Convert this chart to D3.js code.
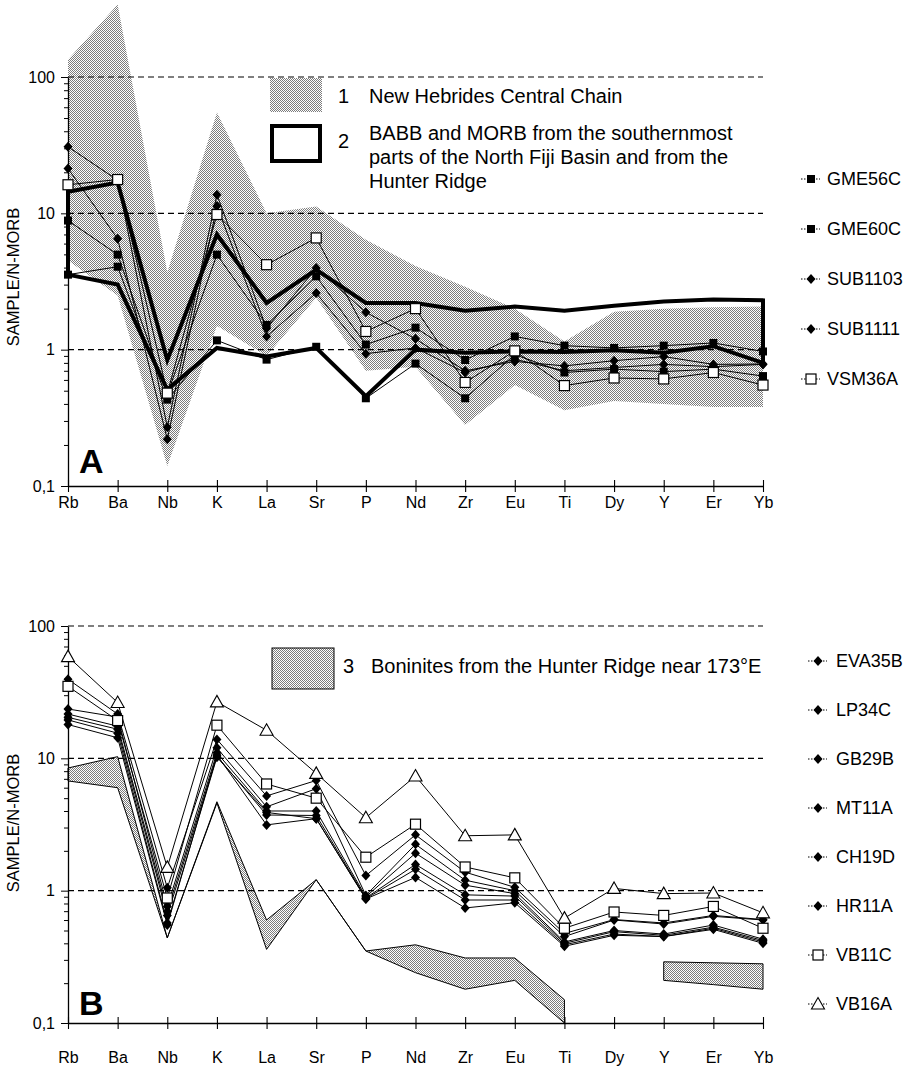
<!DOCTYPE html>
<html>
<head>
<meta charset="utf-8">
<script src="https://cdn.jsdelivr.net/npm/d3@7"></script>
<style>
body { margin: 0; background: #fff; }
text { font-family: "Liberation Sans", Arial, Helvetica, sans-serif; fill: #000; }
</style>
</head>
<body>
<svg width="907" height="1078"></svg>
<script>
var svg = d3.select("svg");

// categories and ticks
var elements = ["Rb", "Ba", "Nb", "K", "La", "Sr", "P", "Nd", "Zr", "Eu", "Ti", "Dy", "Y", "Er", "Yb"];
var yTickValues = [0.1, 1, 10, 100];
var yTickLabels = ["0,1", "1", "10", "100"];
var minorTicks = [0.2, 0.3, 0.4, 0.5, 0.6, 0.7, 0.8, 0.9, 2, 3, 4, 5, 6, 7, 8, 9, 20, 30, 40, 50, 60, 70, 80, 90];

// panel A samples
var gme56c  = [8.85, 4.98, 0.47, 4.98, 1.52, 3.45, 1.09, 1.45, 0.84, 1.25, 1.07, 1.03, 1.07, 1.12, 0.97];
var gme60c  = [3.55, 4.06, 0.43, 1.17, 0.845, 1.05, 0.44, 0.79, 0.44, 0.92, 0.68, 0.72, 0.69, 0.72, 0.64];
var sub1103 = [30.8, 17.5, 0.27, 13.7, 1.43, 3.97, 1.88, 1.2, 0.70, 0.82, 0.76, 0.83, 0.89, 0.78, 0.785];
var sub1111 = [21.3, 6.5, 0.22, 11.3, 1.25, 2.6, 0.935, 1.03, 0.68, 0.85, 0.70, 0.74, 0.78, 0.75, 0.78];
var vsm36a  = [16.2, 17.7, 0.48, 9.8, 4.2, 6.6, 1.36, 2.0, 0.575, 0.98, 0.545, 0.62, 0.61, 0.68, 0.55];

// field 1: New Hebrides Central Chain
var nhccMax = [134, 340, 3.7, 55, 10, 11.2, 6.4, 4.1, 2.9, 2.0, 1.15, 1.9, 2.0, 2.05, 2.07];
var nhccMin = [4.5, 2.5, 0.14, 1.5, 0.9, 2.4, 0.7, 0.75, 0.28, 0.55, 0.36, 0.42, 0.40, 0.38, 0.38];
// field 2: BABB and MORB
var babbMax = [14.4, 16.8, 0.84, 7.0, 2.2, 3.86, 2.2, 2.2, 1.93, 2.07, 1.93, 2.1, 2.26, 2.33, 2.3];
var babbMin = [3.55, 3.0, 0.51, 1.03, 0.89, 1.03, 0.455, 1.0, 0.95, 0.97, 0.96, 0.99, 0.95, 1.06, 0.8];

// panel B samples
var eva35b = [39.6, 21.6, 1.05, 13.9, 5.2, 6.8, 1.30, 2.64, 1.38, 1.06, 0.475, 0.605, 0.57, 0.65, 0.605];
var lp34c  = [23.6, 20.5, 0.76, 12.0, 4.3, 5.9, 0.92, 2.24, 1.2, 1.0, 0.45, 0.60, 0.56, 0.64, 0.60];
var gb29b  = [21.6, 17.5, 0.70, 11.0, 4.0, 4.0, 0.90, 1.92, 1.1, 0.95, 0.41, 0.50, 0.47, 0.55, 0.43];
var mt11a  = [20.4, 16.6, 0.65, 10.4, 3.73, 3.7, 0.88, 1.58, 0.93, 0.91, 0.40, 0.49, 0.46, 0.53, 0.42];
var ch19d  = [19.5, 15.5, 0.57, 10.2, 3.9, 3.5, 0.87, 1.45, 0.85, 0.85, 0.39, 0.47, 0.45, 0.52, 0.41];
var hr11a  = [18.0, 14.3, 0.55, 10.6, 3.14, 3.5, 0.865, 1.26, 0.74, 0.81, 0.38, 0.46, 0.45, 0.51, 0.40];
var vb11c  = [35, 19.3, 0.88, 17.8, 6.4, 5.0, 1.79, 3.18, 1.51, 1.25, 0.52, 0.69, 0.65, 0.76, 0.52];
var vb16a  = [58.7, 26.4, 1.5, 26.7, 16.3, 7.7, 3.56, 7.35, 2.6, 2.64, 0.62, 1.04, 0.95, 0.96, 0.68];

// field 3: boninites (two pieces)
var boninEls1 = ["Rb", "Ba", "Nb", "K", "La", "Sr", "P", "Nd", "Zr", "Eu", "Ti"];
var boninMax1 = [8.45, 10.3, 0.44, 4.7, 0.60, 1.21, 0.35, 0.39, 0.31, 0.31, 0.15];
var boninMin1 = [6.75, 6.0, 0.44, 4.6, 0.36, 1.21, 0.35, 0.24, 0.18, 0.21, 0.1];
var boninEls2 = ["Y", "Er", "Yb"];
var boninMax2 = [0.29, 0.285, 0.28];
var boninMin2 = [0.21, 0.195, 0.18];

var seriesA = [
	{name: "GME56C", values: gme56c, sym: "fsquare"},
	{name: "GME60C", values: gme60c, sym: "fsquare"},
	{name: "SUB1103", values: sub1103, sym: "diamond"},
	{name: "SUB1111", values: sub1111, sym: "diamond"},
	{name: "VSM36A", values: vsm36a, sym: "osquare"}
];
var seriesB = [
	{name: "EVA35B", values: eva35b, sym: "diamond"},
	{name: "LP34C", values: lp34c, sym: "diamond"},
	{name: "GB29B", values: gb29b, sym: "diamond"},
	{name: "MT11A", values: mt11a, sym: "diamond"},
	{name: "CH19D", values: ch19d, sym: "diamond"},
	{name: "HR11A", values: hr11a, sym: "diamond"},
	{name: "VB11C", values: vb11c, sym: "osquare"},
	{name: "VB16A", values: vb16a, sym: "triangle"}
];

// stipple pattern for the shaded fields
var defs = svg.append("defs");
var pat = defs.append("pattern").attr("id", "stipple")
	.attr("width", 2).attr("height", 2).attr("patternUnits", "userSpaceOnUse");
pat.append("rect").attr("width", 2).attr("height", 2).attr("fill", "#fff");
pat.append("rect").attr("x", 0).attr("y", 0).attr("width", 1).attr("height", 1).attr("fill", "#7c7c7c");
pat.append("rect").attr("x", 1).attr("y", 1).attr("width", 1).attr("height", 1).attr("fill", "#7c7c7c");

var x = d3.scalePoint().domain(elements).range([68, 763]);

function marker(g, type, cx, cy) {
	if (type == "fsquare") {
		g.append("rect").attr("x", cx - 4).attr("y", cy - 4).attr("width", 8).attr("height", 8).attr("fill", "#000");
	} else if (type == "osquare") {
		g.append("rect").attr("x", cx - 5).attr("y", cy - 5).attr("width", 10).attr("height", 10)
			.attr("fill", "#fff").attr("stroke", "#000").attr("stroke-width", 1.2);
	} else if (type == "diamond") {
		g.append("path").attr("d", "M" + cx + "," + (cy - 5) + "L" + (cx + 4.5) + "," + cy + "L" + cx + "," + (cy + 5) + "L" + (cx - 4.5) + "," + cy + "Z")
			.attr("fill", "#000");
	} else if (type == "triangle") {
		g.append("path").attr("d", "M" + cx + "," + (cy - 6.5) + "L" + (cx + 6.5) + "," + (cy + 5) + "L" + (cx - 6.5) + "," + (cy + 5) + "Z")
			.attr("fill", "#fff").attr("stroke", "#000").attr("stroke-width", 1.1);
	}
}

function drawAxes(y, labelDy, labelY) {
	var g = svg.append("g");
	// dashed grid lines at 1, 10, 100
	g.selectAll(".grid").data([1, 10, 100]).enter().append("line")
		.attr("x1", 68).attr("x2", 763)
		.attr("y1", function(d) { return y(d); }).attr("y2", function(d) { return y(d); })
		.attr("stroke", "#000").attr("stroke-width", 1.1).attr("stroke-dasharray", "6,4");

	var left = svg.append("g").attr("transform", "translate(68,0)")
		.call(d3.axisLeft(y).tickValues(yTickValues)
			.tickFormat(function(d, i) { return yTickLabels[i]; })
			.tickSize(7).tickSizeOuter(0).tickPadding(6));
	left.selectAll("text").style("font-size", "16px").style("font-family", "Liberation Sans, Arial, sans-serif");
	left.select(".domain").attr("stroke-width", 1.3);

	var minor = svg.append("g").attr("transform", "translate(68,0)")
		.call(d3.axisLeft(y).tickValues(minorTicks).tickFormat("").tickSize(4).tickSizeOuter(0));
	minor.select(".domain").remove();

	var bottom = svg.append("g").attr("transform", "translate(0," + y(0.1) + ")")
		.call(d3.axisBottom(x).tickSize(6).tickSizeOuter(0).tickPadding(labelDy));
	bottom.select(".domain").attr("stroke-width", 1.3);
	bottom.selectAll(".tick line").attr("y1", -6).attr("stroke-width", 1.1);
	bottom.selectAll("text").style("font-size", "16px").style("font-family", "Liberation Sans, Arial, sans-serif");

	svg.append("text")
		.attr("transform", "translate(19," + labelY + ") rotate(-90)")
		.attr("text-anchor", "middle")
		.style("font-size", "16.5px")
		.text("SAMPLE/N-MORB");
}

function drawSeries(series, y) {
	var line = d3.line()
		.x(function(d, i) { return x(elements[i]); })
		.y(function(d) { return y(d); });
	var g = svg.append("g");
	series.forEach(function(s) {
		g.append("path").attr("d", line(s.values))
			.attr("fill", "none").attr("stroke", "#000").attr("stroke-width", 1);
	});
	series.forEach(function(s) {
		s.values.forEach(function(v, i) {
			marker(g, s.sym, x(elements[i]), y(v));
		});
	});
}

function drawLegendSeries(series, lx, tx, y0, dy) {
	var g = svg.append("g");
	series.forEach(function(s, i) {
		var by = y0 + i * dy;
		g.append("line").attr("x1", lx - 10).attr("x2", lx + 9).attr("y1", by - 6).attr("y2", by - 6)
			.attr("stroke", "#000").attr("stroke-width", 1).attr("stroke-dasharray", "1.5,1.5");
		marker(g, s.sym, lx, by - 6);
		g.append("text").attr("x", tx).attr("y", by).style("font-size", "18px").text(s.name);
	});
}

// ---------- Panel A ----------
var yA = d3.scaleLog().domain([0.1, 100]).range([486, 77]);

var fieldArea = function(y, els) {
	return d3.area()
		.x(function(d, i) { return x(els[i]); })
		.y0(function(d) { return y(d[0]); })
		.y1(function(d) { return y(d[1]); });
};

svg.append("path")
	.attr("d", fieldArea(yA, elements)(d3.zip(nhccMin, nhccMax)))
	.attr("fill", "url(#stipple)").attr("stroke", "none");

drawAxes(yA, 5, 277);

svg.append("path")
	.attr("d", fieldArea(yA, elements)(d3.zip(babbMin, babbMax)))
	.attr("fill", "none").attr("stroke", "#000").attr("stroke-width", 4).attr("stroke-linejoin", "miter");

drawSeries(seriesA, yA);

// legend A
svg.append("rect").attr("x", 270).attr("y", 78).attr("width", 52).attr("height", 34).attr("fill", "url(#stipple)");
svg.append("text").attr("x", 338).attr("y", 103).style("font-size", "20px").text("1");
svg.append("text").attr("x", 369).attr("y", 103).style("font-size", "20px").text("New Hebrides Central Chain");
svg.append("rect").attr("x", 272).attr("y", 126).attr("width", 48).attr("height", 35)
	.attr("fill", "#fff").attr("stroke", "#000").attr("stroke-width", 4);
svg.append("text").attr("x", 338).attr("y", 148).style("font-size", "20px").text("2");
["BABB and MORB from the southernmost", "parts of the North Fiji Basin and from the", "Hunter Ridge"].forEach(function(t, i) {
	svg.append("text").attr("x", 369).attr("y", 140 + i * 24).style("font-size", "20px").text(t);
});
drawLegendSeries(seriesA, 811, 827, 185, 50);

svg.append("text").attr("x", 79).attr("y", 473).style("font-size", "34px").style("font-weight", "bold").text("A");

// ---------- Panel B ----------
var yB = d3.scaleLog().domain([0.1, 100]).range([1023, 626]);

[[boninEls1, boninMin1, boninMax1], [boninEls2, boninMin2, boninMax2]].forEach(function(f) {
	svg.append("path")
		.attr("d", fieldArea(yB, f[0])(d3.zip(f[1], f[2])))
		.attr("fill", "url(#stipple)").attr("stroke", "#000").attr("stroke-width", 1);
});

drawAxes(yB, 23, 823);
drawSeries(seriesB, yB);

svg.append("rect").attr("x", 272).attr("y", 648).attr("width", 62).attr("height", 41)
	.attr("fill", "url(#stipple)").attr("stroke", "#000").attr("stroke-width", 1);
svg.append("text").attr("x", 343).attr("y", 673).style("font-size", "20px").text("3");
svg.append("text").attr("x", 371).attr("y", 673).style("font-size", "20px").text("Boninites from the Hunter Ridge near 173\u00B0E");
drawLegendSeries(seriesB, 818, 836, 667, 49);

svg.append("text").attr("x", 79).attr("y", 1015).style("font-size", "34px").style("font-weight", "bold").text("B");
</script>
</body>
</html>
